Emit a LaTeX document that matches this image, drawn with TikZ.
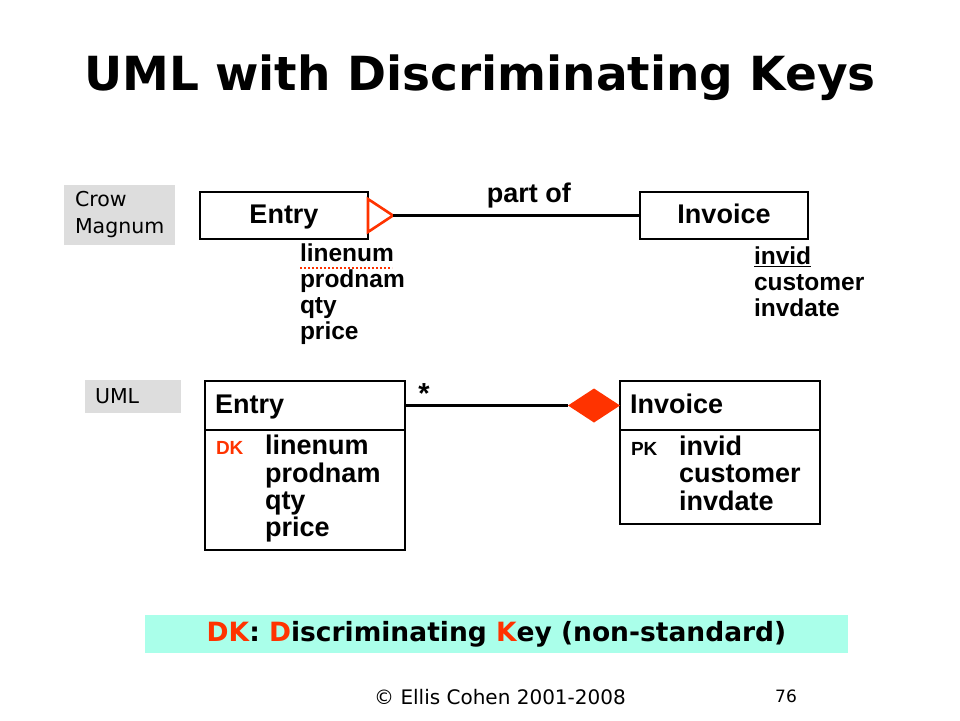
\documentclass[tikz,border=0pt]{standalone}
\usepackage{fontspec}
\setmainfont{Liberation Sans}
\newfontfamily\verdana{DejaVu Sans}
\usetikzlibrary{shapes,positioning}
\definecolor{keyred}{HTML}{FF3300}
\definecolor{taggrey}{HTML}{DDDDDD}
\definecolor{barcyan}{HTML}{AAFFEA}

\begin{document}
\begin{tikzpicture}[x=1pt,y=-1pt]
  \tikzstyle{every node}=[inner sep=0pt, outer sep=0pt]
  \tikzstyle{entity}=[draw, line width=2.8pt, minimum width=168pt, minimum height=47pt, text height=20pt, text depth=5pt, font=\fontsize{27}{27}\selectfont\bfseries]
  \tikzstyle{umlhead}=[draw, line width=2.8pt, minimum width=200pt, minimum height=49pt, text height=20pt, text depth=5pt, align=left, font=\fontsize{27}{27}\selectfont\bfseries]
  \tikzstyle{umlbody}=[draw, line width=2.8pt, minimum width=200pt, align=left, font=\fontsize{27}{27}\selectfont\bfseries]
  \tikzstyle{attrs}=[anchor=north west, align=left, font=\fontsize{24.5}{26}\selectfont\bfseries]
  \tikzstyle{tag}=[fill=taggrey, align=left, font=\fontsize{20.5}{27}\selectfont\verdana]
  \newcommand{\keytag}[1]{\fontsize{19}{19}\selectfont #1}
  \useasboundingbox (0,0) rectangle (960,720);

  \node[font=\fontsize{47}{47}\selectfont\verdana\bfseries] (title) at (480,78) {UML with Discriminating Keys};

  % Crow Magnum notation
  \node[tag, minimum width=111pt, minimum height=60pt, text width=89pt] (crowtag) at (119.5,215) {Crow\\Magnum};
  \node[entity] (entryA) at (284,215.5) {Entry};
  \node[entity] (invoiceA) at (724,215.5) {Invoice};
  \coordinate (tip) at ([xshift=25pt]entryA.east);
  \draw[keyred, line width=2.6pt, line join=miter] ([yshift=16.5pt]entryA.east) -- (tip) -- ([yshift=-16.5pt]entryA.east) -- cycle;
  \draw[line width=2.6pt] (tip) -- node[pos=0.55, above=7pt, font=\fontsize{27}{27}\selectfont\bfseries] {part of} (invoiceA);
  \node[attrs] (entryattrs) at (300,244) {linenum\\prodnam\\qty\\price};
  \draw[keyred, line width=2pt, dotted] ([yshift=-24pt]entryattrs.north west) -- ++(92,0);
  \node[attrs] (invattrs) at (754,247) {\underline{invid}\\customer\\invdate};

  % UML notation
  \node[tag, minimum width=96pt, minimum height=33pt, text width=76pt] (umltag) at (133,396.5) {UML};
  \node[umlhead, text width=180pt] (entryB) at (305,405.5) {Entry};
  \node[umlbody, minimum height=120pt, text width=178pt, below=0pt of entryB] (entryBbody)
    {\begin{tabular}{@{}p{49pt}@{}l@{}}
      \textcolor{keyred}{\keytag{DK}} & linenum\\ & prodnam\\ & qty\\ & price
    \end{tabular}};
  \node[umlhead, text width=180pt] (invoiceB) at (720,405.5) {Invoice};
  \node[umlbody, minimum height=94pt, text width=178pt, below=0pt of invoiceB] (invoiceBbody)
    {\begin{tabular}{@{}p{48pt}@{}l@{}}
      \keytag{PK} & invid\\ & customer\\ & invdate
    \end{tabular}};
  \node[diamond, fill=keyred, minimum width=52pt, minimum height=34pt, left=0pt of invoiceB] (agg) {};
  \draw[line width=2.6pt] (entryB.east) -- (agg.west);
  \node[anchor=base, font=\fontsize{29}{29}\selectfont\bfseries] (mult) at ([xshift=19pt,yshift=2pt]entryB.east) {*};

  \node[fill=barcyan, minimum width=703pt, minimum height=38pt, font=\fontsize{26.5}{26.5}\selectfont\verdana\bfseries] (dkbar) at (496.5,634)
    {\textcolor{keyred}{DK}: \textcolor{keyred}{D}iscriminating \textcolor{keyred}{K}ey (non-standard)};
  \node[font=\fontsize{20}{20}\selectfont\verdana] (footer) at (500,697) {© Ellis Cohen 2001-2008};
  \node[font=\fontsize{17}{17}\selectfont\verdana] (pagenum) at (786,696) {76};
\end{tikzpicture}
\end{document}
